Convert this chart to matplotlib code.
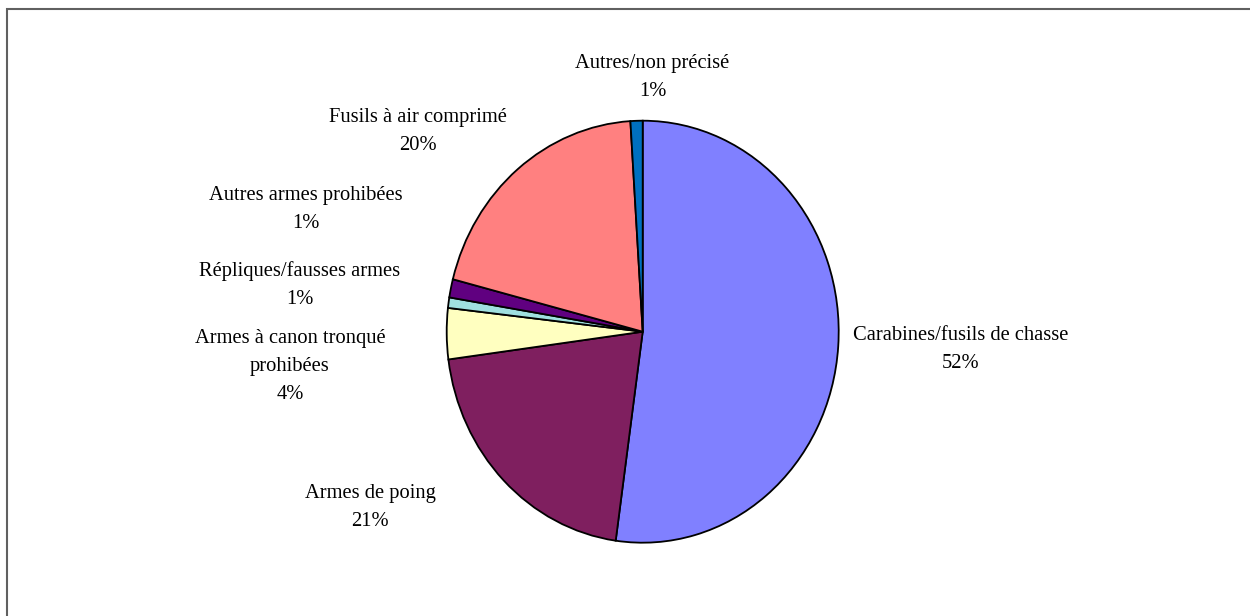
import matplotlib
matplotlib.use("Agg")
import matplotlib.pyplot as plt
from matplotlib.patches import Rectangle

categories = ["Carabines/fusils de chasse", "Armes de poing", "Armes à canon tronqué\nprohibées",
              "Répliques/fausses armes", "Autres armes prohibées", "Fusils à air comprimé",
              "Autres/non précisé"]
values = [52.2, 20.7, 3.9, 0.8, 1.4, 20.0, 1.0]
pct_labels = ["52%", "21%", "4%", "1%", "1%", "20%", "1%"]
colors = ["#8080FF", "#7F1F5F", "#FFFFC0", "#A0E0E0", "#600080", "#FF8080", "#0070C0"]

# label centre positions (in pie-radius units)
label_pos = [(1.62, -0.085), (-1.39, -0.835), (-1.80, -0.165), (-1.75, 0.22),
             (-1.72, 0.581), (-1.146, 0.95), (0.05, 1.205)]

W, H = 1250, 616
fig = plt.figure(figsize=(W / 100, H / 100), dpi=100)
cx, cy, rx, ry = 642.7, 331.7, 196, 211
ax = fig.add_axes([(cx - rx) / W, (H - cy - ry) / H, 2 * rx / W, 2 * ry / H])
wedges, _ = ax.pie(values, colors=colors, startangle=90, counterclock=False,
                   wedgeprops=dict(edgecolor="black", linewidth=1.3))
ax.set_aspect("auto")
ax.set_xlim(-1, 1)
ax.set_ylim(-1, 1)
ax.axis("off")

for cat, pct, (x, y) in zip(categories, pct_labels, label_pos):
    ax.text(x, y, cat + "\n" + pct, ha="center", va="center", fontsize=14.8,
            family="Liberation Serif", linespacing=1.63, clip_on=False)

fig.patches.append(Rectangle((6.5 / W, -0.1), 1.2, (H - 8.5) / H + 0.1, transform=fig.transFigure,
                             fill=False, edgecolor="#606060", linewidth=1.5))
fig.savefig("out.png", dpi=100)
